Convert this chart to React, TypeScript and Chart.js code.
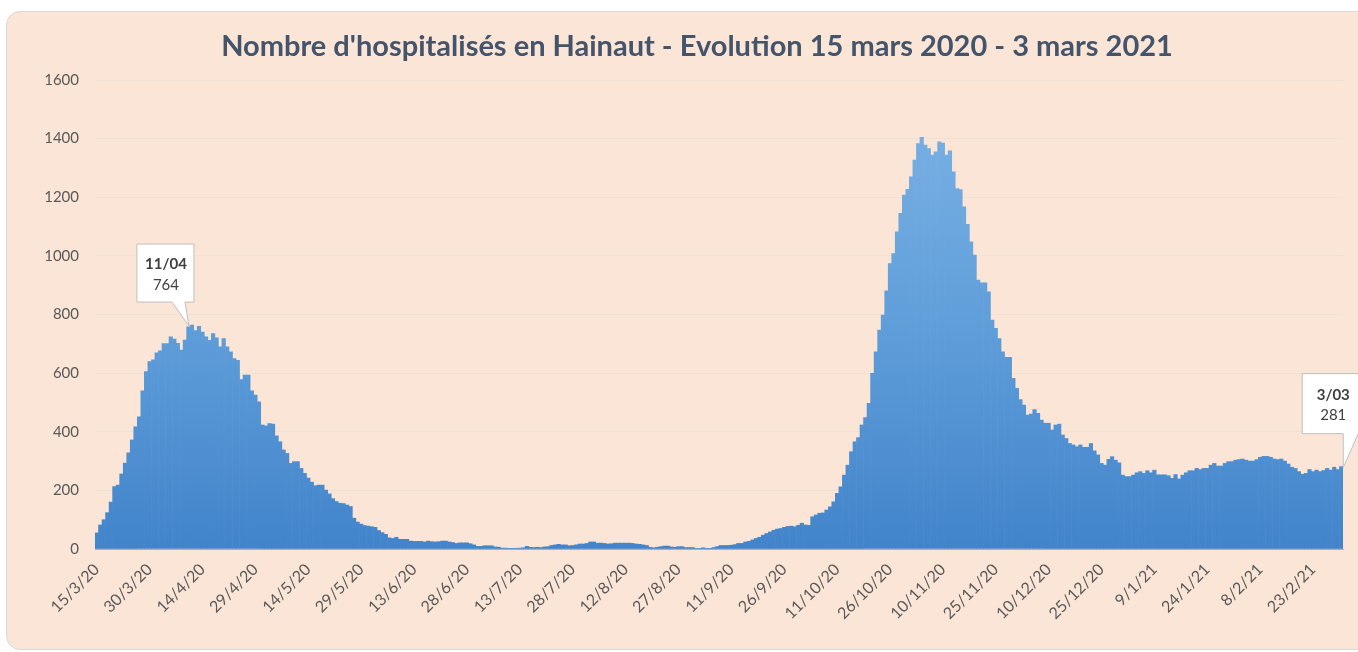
import React, { useEffect, useRef } from 'react';
import { Chart, registerables } from 'chart.js';

Chart.register(...registerables);

const TITLE = "Nombre d'hospitalisés en Hainaut - Evolution 15 mars 2020 - 3 mars 2021";

// First day of the series: 15 March 2020 (one bar per day up to 3 March 2021)
const START_DAY = { year: 2020, month: 3, day: 15 };

// Number of hospitalised patients per day
const HOSPITALISES = [
  55, 82, 100, 124, 160, 213, 218, 256, 293, 328,
  372, 417, 451, 540, 605, 639, 645, 669, 676, 701,
  701, 724, 716, 702, 679, 713, 758, 764, 745, 760,
  740, 724, 712, 735, 720, 690, 718, 690, 673, 650,
  644, 578, 593, 593, 540, 525, 502, 423, 420, 428,
  426, 386, 366, 338, 326, 292, 298, 298, 275, 258,
  242, 228, 216, 218, 218, 201, 188, 172, 162, 156,
  155, 150, 145, 105, 92, 85, 80, 78, 76, 74,
  63, 56, 50, 38, 36, 40, 33, 33, 33, 27,
  26, 26, 26, 24, 27, 25, 24, 25, 27, 27,
  24, 22, 19, 21, 21, 21, 18, 14, 9, 9,
  11, 11, 11, 7, 6, 3, 3, 2, 1, 1,
  3, 4, 9, 6, 5, 6, 5, 7, 8, 12,
  14, 16, 14, 14, 11, 12, 14, 17, 17, 19,
  24, 24, 20, 20, 19, 17, 18, 20, 20, 20,
  20, 20, 19, 17, 16, 14, 12, 6, 4, 6,
  8, 10, 10, 7, 6, 8, 8, 5, 5, 5,
  2, 2, 4, 1, 1, 5, 8, 12, 12, 12,
  13, 15, 19, 19, 24, 26, 31, 36, 40, 47,
  53, 58, 64, 68, 70, 74, 77, 78, 76, 81,
  88, 82, 81, 110, 116, 122, 123, 133, 144, 161,
  190, 212, 252, 286, 332, 366, 380, 423, 448, 497,
  599, 673, 747, 798, 881, 974, 1008, 1082, 1145, 1207,
  1227, 1270, 1327, 1383, 1404, 1378, 1366, 1344, 1355, 1389,
  1385, 1344, 1358, 1287, 1230, 1226, 1167, 1108, 1048, 1003,
  917, 908, 908, 877, 781, 753, 718, 673, 654, 654,
  582, 548, 510, 491, 457, 460, 476, 463, 440, 429,
  429, 406, 423, 426, 389, 377, 360, 355, 349, 355,
  347, 347, 360, 335, 321, 292, 286, 306, 315, 303,
  294, 252, 247, 247, 252, 260, 264, 258, 267, 260,
  269, 253, 253, 253, 250, 241, 254, 239, 252, 260,
  267, 267, 275, 271, 275, 275, 286, 292, 283, 283,
  292, 298, 298, 303, 305, 307, 303, 300, 300, 305,
  313, 316, 316, 313, 307, 305, 307, 300, 290, 279,
  275, 264, 255, 258, 271, 264, 269, 264, 268, 275,
  269, 279, 271, 281,
];

// Date labels shown under the x axis
const TICK_LABELS = [
  '15/3/20', '30/3/20', '14/4/20', '29/4/20', '14/5/20', '29/5/20',
  '13/6/20', '28/6/20', '13/7/20', '28/7/20', '12/8/20', '27/8/20',
  '11/9/20', '26/9/20', '11/10/20', '26/10/20', '10/11/20', '25/11/20',
  '10/12/20', '25/12/20', '9/1/21', '24/1/21', '8/2/21', '23/2/21',
];

const Y_MIN = 0;
const Y_MAX = 1600;
const Y_STEP = 200;

// Callouts: which day is labelled and the header shown in the box
const CALLOUT_DAYS = [27, 353];
const CALLOUT_HEADERS = ['11/04', '3/03'];

function buildDayLabels(n: number): string[] {
  const out: string[] = [];
  const base = Date.UTC(START_DAY.year, START_DAY.month - 1, START_DAY.day);
  for (let i = 0; i < n; i++) {
    const d = new Date(base + i * 86400000);
    out.push(`${d.getUTCDate()}/${d.getUTCMonth() + 1}/${String(d.getUTCFullYear()).slice(2)}`);
  }
  return out;
}

const DAY_LABELS = buildDayLabels(HOSPITALISES.length);
const TICK_SET = new Set(TICK_LABELS);

// Box geometry relative to the bar tip (style only)
const CALLOUT_STYLES = [
  { left: -55, right: 2, top: -81, bottom: -23, baseL: -20, baseR: -7, tipDx: -3, textDx: -26, headDy: -61, valDy: -40 },
  { left: -39, right: 19, top: -93, bottom: -33, baseL: 2, baseR: 17, tipDx: 2, textDx: -8, headDy: -71, valDy: -51 },
];

const calloutPlugin = {
  id: 'callouts',
  afterDatasetsDraw(chart: any) {
    const ctx = chart.ctx;
    const meta = chart.getDatasetMeta(0);
    CALLOUT_DAYS.forEach((dayIdx, k) => {
      const el = meta.data[dayIdx];
      if (!el) return;
      const cx = el.x;
      const cy = el.y;
      const s = CALLOUT_STYLES[k];
      ctx.save();
      ctx.fillStyle = '#FFFFFF';
      ctx.strokeStyle = '#BFBFBF';
      ctx.lineWidth = 1;
      ctx.beginPath();
      ctx.moveTo(cx + s.left, cy + s.top);
      ctx.lineTo(cx + s.right, cy + s.top);
      ctx.lineTo(cx + s.right, cy + s.bottom);
      ctx.lineTo(cx + s.baseR, cy + s.bottom);
      ctx.lineTo(cx + s.tipDx, cy + 1);
      ctx.lineTo(cx + s.baseL, cy + s.bottom);
      ctx.lineTo(cx + s.left, cy + s.bottom);
      ctx.closePath();
      ctx.fill();
      ctx.stroke();
      ctx.fillStyle = '#404040';
      ctx.textAlign = 'center';
      ctx.textBaseline = 'middle';
      ctx.font = 'bold 15px Lato';
      ctx.fillText(CALLOUT_HEADERS[k], cx + s.textDx, cy + s.headDy);
      ctx.font = '15px Lato';
      ctx.fillText(String(HOSPITALISES[dayIdx]), cx + s.textDx, cy + s.valDy);
      ctx.restore();
    });
  },
};

const titlePlugin = {
  id: 'customTitle',
  afterDraw(chart: any) {
    const ctx = chart.ctx;
    ctx.save();
    ctx.fillStyle = '#44546A';
    ctx.font = 'bold 29px Lato';
    ctx.textAlign = 'center';
    ctx.textBaseline = 'middle';
    ctx.fillText(TITLE, 697, 47);
    ctx.restore();
  },
};

let gradientCache: CanvasGradient | null = null;
function barColor(context: any) {
  const chart = context.chart;
  const area = chart.chartArea;
  if (!area) return '#5B9BD5';
  if (!gradientCache) {
    const g = chart.ctx.createLinearGradient(0, area.top, 0, area.bottom);
    g.addColorStop(0, '#7DB3E5');
    g.addColorStop(0.5, '#619FDA');
    g.addColorStop(1, '#4284CB');
    gradientCache = g;
  }
  return gradientCache;
}

export default function App() {
  const canvasRef = useRef<HTMLCanvasElement | null>(null);

  useEffect(() => {
    const canvas = canvasRef.current;
    if (!canvas) return;
    gradientCache = null;
    const chart = new Chart(canvas, {
      type: 'bar',
      data: {
        labels: DAY_LABELS,
        datasets: [
          {
            data: HOSPITALISES,
            backgroundColor: barColor,
            borderWidth: 0,
            barPercentage: 1,
            categoryPercentage: 1,
          },
        ],
      },
      options: {
        animation: false,
        responsive: false,
        maintainAspectRatio: false,
        layout: { padding: { left: 0, right: 15, top: 80, bottom: 0 } },
        plugins: {
          legend: { display: false },
          tooltip: { enabled: false },
          title: { display: false },
        },
        scales: {
          x: {
            grid: { display: false, drawTicks: false },
            border: { display: true, color: '#8EB4E3', width: 1 },
            ticks: {
              autoSkip: false,
              maxRotation: 45,
              minRotation: 45,
              color: '#595959',
              font: { family: 'Lato', size: 16 },
              padding: 11,
              callback: (_v: any, i: number) => (TICK_SET.has(DAY_LABELS[i]) ? DAY_LABELS[i] : ''),
            },
            afterFit: (s: any) => {
              s.height = 103;
              s.paddingLeft = 0;
              s.paddingRight = 0;
            },
          },
          y: {
            min: Y_MIN,
            max: Y_MAX,
            ticks: {
              stepSize: Y_STEP,
              color: '#595959',
              font: { family: 'Lato', size: 15 },
              padding: 16,
              callback: (v: any) => String(v),
            },
            grid: { color: '#F0E1D7', drawTicks: false, lineWidth: 1 },
            border: { display: false },
            afterFit: (s: any) => {
              s.width = 95;
              s.paddingTop = 0;
              s.paddingBottom = 0;
            },
          },
        },
      },
      plugins: [calloutPlugin, titlePlugin],
    });
    return () => chart.destroy();
  }, []);

  return (
    <div style={{ position: 'absolute', left: 0, top: 0, width: 1358, height: 652, background: '#FFFFFF', overflow: 'hidden' }}>
      <div
        style={{
          position: 'absolute',
          left: 6,
          top: 11,
          width: 1370,
          height: 637,
          background: '#FBE5D6',
          border: '1px solid #D9D9D9',
          borderRadius: 14,
        }}
      />
      <canvas ref={canvasRef} width={1358} height={652} style={{ position: 'absolute', left: 0, top: 0 }} />
    </div>
  );
}
